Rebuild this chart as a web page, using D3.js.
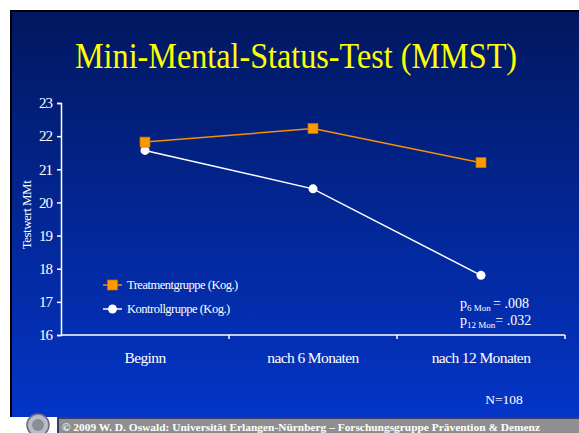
<!DOCTYPE html>
<html>
<head>
<meta charset="utf-8">
<script src="https://cdn.jsdelivr.net/npm/d3@7"></script>
<style>
  body { margin: 0; background: #fff; }
  svg { display: block; font-family: "Liberation Serif", "Times New Roman", serif; }
</style>
</head>
<body>
<svg id="chart"></svg>
<script>
// chart data
const categories = ["Beginn", "nach 6 Monaten", "nach 12 Monaten"];
const treatment = [21.82, 22.23, 21.2];
const control = [21.57, 20.41, 17.8];
const seriesNames = ["Treatmentgruppe (Kog.)", "Kontrollgruppe (Kog.)"];
const yTicks = [16, 17, 18, 19, 20, 21, 22, 23];

const serif = "'Liberation Serif', 'Times New Roman', serif";

// canvas
const canvWidth = 579;
const canvHeight = 433;

const svg = d3.select("#chart")
    .attr("width", canvWidth)
    .attr("height", canvHeight);

// background gradient of the slide
const defs = svg.append("defs");
const grad = defs.append("linearGradient")
    .attr("id", "bg")
    .attr("x1", 0).attr("y1", 0).attr("x2", 0).attr("y2", 1);
grad.append("stop").attr("offset", "0%").attr("stop-color", "#01175f");
grad.append("stop").attr("offset", "100%").attr("stop-color", "#0435c8");

// slide frame
svg.append("rect").attr("x", 10).attr("y", 10).attr("width", canvWidth - 10).attr("height", 407).attr("fill", "#000");
svg.append("rect").attr("x", 12).attr("y", 12).attr("width", canvWidth - 12).attr("height", 405).attr("fill", "url(#bg)");

// title
svg.append("text")
    .attr("x", 296).attr("y", 68)
    .attr("text-anchor", "middle")
    .attr("fill", "#ffff00")
    .attr("textLength", 442)
    .attr("lengthAdjust", "spacingAndGlyphs")
    .style("font-family", serif)
    .style("font-size", "36px")
    .text("Mini-Mental-Status-Test (MMST)");

// plot area
const margin = { top: 103, left: 61 };

const g = svg.append("g")
    .attr("transform", "translate(" + margin.left + "," + margin.top + ")");

// scales
const x = d3.scaleBand().domain(categories).range([0, 504]);
const y = d3.scaleLinear().domain([16, 23]).range([232, 0]);

// y axis
const yAxis = g.append("g")
    .call(d3.axisLeft(y).tickValues(yTicks).tickFormat(d3.format("d")).tickSize(4).tickPadding(5));
yAxis.selectAll("path, line").attr("stroke", "#fff").attr("stroke-width", 1.5);
yAxis.selectAll("text").attr("fill", "#fff")
    .style("font-size", "15px").style("letter-spacing", "-1px")
    .style("font-family", serif);

// x axis with ticks at band boundaries
g.append("line")
    .attr("x1", 0).attr("x2", x.range()[1])
    .attr("y1", y(16)).attr("y2", y(16))
    .attr("stroke", "#fff").attr("stroke-width", 1.5);
g.selectAll(".xtick")
    .data(categories)
    .enter().append("line")
    .attr("class", "xtick")
    .attr("x1", d => x(d) + x.bandwidth()).attr("x2", d => x(d) + x.bandwidth())
    .attr("y1", y(16)).attr("y2", y(16) + 4)
    .attr("stroke", "#fff").attr("stroke-width", 1.5);
g.selectAll(".xlabel")
    .data(categories)
    .enter().append("text")
    .attr("class", "xlabel")
    .attr("x", d => x(d) + x.bandwidth() / 2)
    .attr("y", y(16) + 28)
    .attr("text-anchor", "middle")
    .attr("fill", "#fff")
    .style("font-family", serif)
    .style("font-size", "15.5px").style("letter-spacing", "-0.6px")
    .text(d => d);

// y axis title
svg.append("text")
    .attr("transform", "translate(31,215) rotate(-90)")
    .attr("text-anchor", "middle")
    .attr("fill", "#fff")
    .style("font-family", serif)
    .style("font-size", "13px").style("letter-spacing", "-0.5px")
    .text("Testwert MMt");

const cx = d => x(d) + x.bandwidth() / 2;

const line = d3.line()
    .x((d, i) => cx(categories[i]))
    .y(d => y(d));

// control line + circles
g.append("path").datum(control)
    .attr("d", line).attr("fill", "none")
    .attr("stroke", "#fff").attr("stroke-width", 1.5);
g.selectAll(".ctrl")
    .data(control)
    .enter().append("circle")
    .attr("class", "ctrl")
    .attr("cx", (d, i) => cx(categories[i]))
    .attr("cy", d => y(d))
    .attr("r", 4.5)
    .attr("fill", "#fff");

// treatment line + squares
g.append("path").datum(treatment)
    .attr("d", line).attr("fill", "none")
    .attr("stroke", "#f59200").attr("stroke-width", 1.5);
g.selectAll(".treat")
    .data(treatment)
    .enter().append("rect")
    .attr("class", "treat")
    .attr("x", (d, i) => cx(categories[i]) - 5)
    .attr("y", d => y(d) - 5)
    .attr("width", 10).attr("height", 10)
    .attr("fill", "#ff9900")
    .attr("stroke", "#c86c00").attr("stroke-width", 0.7);

// legend
const legend = svg.append("g").attr("transform", "translate(103,285)");
legend.append("line").attr("x1", 0).attr("x2", 19).attr("y1", 0).attr("y2", 0)
    .attr("stroke", "#f59200").attr("stroke-width", 1.5);
legend.append("rect").attr("x", 4.5).attr("y", -5).attr("width", 10).attr("height", 10)
    .attr("fill", "#ff9900").attr("stroke", "#c86c00").attr("stroke-width", 0.7);
legend.append("line").attr("x1", 0).attr("x2", 19).attr("y1", 24).attr("y2", 24)
    .attr("stroke", "#fff").attr("stroke-width", 1.5);
legend.append("circle").attr("cx", 9.5).attr("cy", 24).attr("r", 4.5).attr("fill", "#fff");
legend.selectAll(".ltext")
    .data(seriesNames)
    .enter().append("text")
    .attr("class", "ltext")
    .attr("x", 24)
    .attr("y", (d, i) => i * 24 + 4)
    .attr("fill", "#fff")
    .style("font-family", serif)
    .style("font-size", "12.5px").style("letter-spacing", "-0.5px")
    .text(d => d);

// p-values
const pv = svg.append("g").attr("fill", "#fff").style("font-family", serif);
const p1 = pv.append("text").attr("x", 460).attr("y", 308).style("font-size", "14px");
p1.append("tspan").text("p");
p1.append("tspan").attr("dy", 3).style("font-size", "9px").text("6 Mon ");
p1.append("tspan").attr("dy", -3).text(" = .008");
const p2 = pv.append("text").attr("x", 460).attr("y", 325).style("font-size", "14px");
p2.append("tspan").text("p");
p2.append("tspan").attr("dy", 3).style("font-size", "9px").text("12 Mon");
p2.append("tspan").attr("dy", -3).text("= .032");

// sample size
svg.append("text")
    .attr("x", 504).attr("y", 404)
    .attr("text-anchor", "middle")
    .attr("fill", "#fff")
    .style("font-family", serif)
    .style("font-size", "13.5px")
    .text("N=108");

// footer logo
svg.append("circle").attr("cx", 38).attr("cy", 425).attr("r", 11)
    .attr("fill", "#b8bcc8").attr("stroke", "#6a6a78").attr("stroke-width", 1.5);
svg.append("circle").attr("cx", 38).attr("cy", 425).attr("r", 6)
    .attr("fill", "#8a8c98");

// footer bar
svg.append("rect").attr("x", 57).attr("y", 417).attr("width", canvWidth - 57).attr("height", 16)
    .attr("fill", "#8f8f8f");
svg.append("line").attr("x1", 57).attr("x2", canvWidth).attr("y1", 418).attr("y2", 418)
    .attr("stroke", "#3a3a6a").attr("stroke-width", 2);
svg.append("line").attr("x1", 58).attr("x2", 58).attr("y1", 418).attr("y2", canvHeight)
    .attr("stroke", "#3a3a6a").attr("stroke-width", 2);
svg.append("text")
    .attr("x", 62).attr("y", 431)
    .attr("fill", "#fff")
    .attr("textLength", 478)
    .attr("lengthAdjust", "spacingAndGlyphs")
    .style("font-family", serif)
    .style("font-size", "11px").style("font-weight", "bold")
    .text("© 2009   W. D. Oswald: Universität Erlangen-Nürnberg – Forschungsgruppe Prävention & Demenz");
</script>
</body>
</html>
